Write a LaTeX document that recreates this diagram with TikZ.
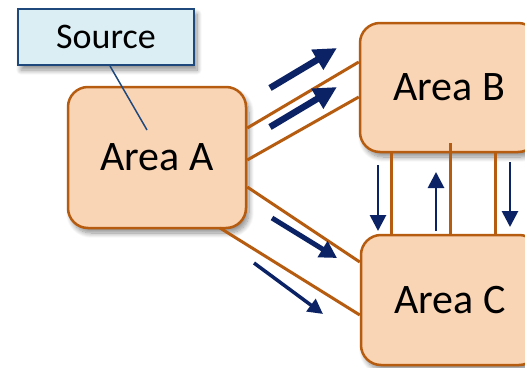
\documentclass[tikz,border=0pt]{standalone}
\usepackage{fontspec}
\setmainfont{Carlito}
\usetikzlibrary{arrows.meta,shadows.blur}
\definecolor{areafill}{HTML}{FAD5B5}
\definecolor{areaedge}{HTML}{B65C10}
\definecolor{srcfill}{HTML}{DBEEF4}
\definecolor{srcedge}{HTML}{1F497D}
\definecolor{flow}{HTML}{0B2265}
\begin{document}
\begin{tikzpicture}[x=1pt,y=-1pt,
  boxshadow/.style={blur shadow={shadow xshift=3pt, shadow yshift=-5pt,
      shadow blur steps=10, shadow blur radius=5pt, shadow opacity=45}},
  area/.style={draw=areaedge, fill=areafill, line width=2.5pt,
      rounded corners=20pt, minimum width=178pt, minimum height=141pt,
      inner sep=0pt, font=\fontsize{42}{50}\selectfont, boxshadow},
  source/.style={draw=srcedge, fill=srcfill, line width=2pt,
      minimum width=176pt, minimum height=56pt, inner sep=0pt,
      font=\fontsize{36}{42}\selectfont, boxshadow},
  link/.style={draw=areaedge, line width=3pt},
  tag/.style={draw=srcedge, line width=1.5pt},
  bigflow/.style={draw=flow, line width=6.5pt, -{Triangle[length=23pt,width=22pt]}},
  midflow/.style={draw=flow, line width=5pt, -{Triangle[length=17pt,width=18pt]}},
  smallflow/.style={draw=flow, line width=3.5pt, -{Triangle[length=15pt,width=15pt]}},
  vflow/.style={draw=flow, line width=2.8pt, -{Triangle[length=16pt,width=16pt]}}
]
\useasboundingbox (0,0) rectangle (525,367);

% boxes
\node[area] (A) at (157,157.5) {\raisebox{-3pt}{Area A}};
\node[area, minimum height=129pt] (B) at (449,87.5) {Area B};
\node[area, minimum height=130pt] (C) at (450,300) {Area C};
\node[source] (S) at (106,37) {Source};

% brown links between the areas
\draw[link] (A.east |- 0,128) -- (B.west |- 0,62);
\draw[link] (A.east |- 0,160) -- (B.west |- 0,97);
\draw[link] (A.east |- 0,187) -- (C.west |- 0,262);
\draw[link] (220,228) -- (C.west |- 0,315);
\draw[link] (391,0 |- B.south) -- (391,0 |- C.north);
\draw[link] (450,143) -- (450,0 |- C.north);
\draw[link] (495,0 |- B.south) -- (495,0 |- C.north);

% label pointer
\draw[tag] (S.south -| 110,0) -- (147,130);

% flow arrows
\coordinate (f1s) at (270,88);  \coordinate (f1e) at (337,48);
\coordinate (f2s) at (270,127); \coordinate (f2e) at (337,87);
\coordinate (f3s) at (272,218); \coordinate (f3e) at (337,258);
\coordinate (f4s) at (254,263); \coordinate (f4e) at (323,314);
\coordinate (f5s) at (378,165); \coordinate (f5e) at (378,231);
\coordinate (f6s) at (436,231); \coordinate (f6e) at (436,172);
\coordinate (f7s) at (510,162); \coordinate (f7e) at (510,227);
\draw[bigflow] (f1s) -- (f1e);
\draw[bigflow] (f2s) -- (f2e);
\draw[midflow] (f3s) -- (f3e);
\draw[smallflow] (f4s) -- (f4e);
\draw[vflow] (f5s) -- (f5e);
\draw[vflow] (f6s) -- (f6e);
\draw[vflow] (f7s) -- (f7e);
\end{tikzpicture}
\end{document}
